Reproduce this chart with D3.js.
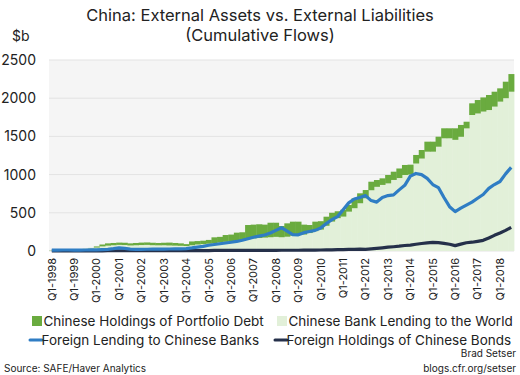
<!DOCTYPE html>
<html>
<head>
<meta charset="utf-8">
<script src="https://cdn.jsdelivr.net/npm/d3@7"></script>
<style>
  body { margin: 0; background: #fff; }
  svg { display: block; font-family: "Inter", "Lato", sans-serif; }
</style>
</head>
<body>
<svg id="chart" width="520" height="375"></svg>
<script>
// quarters Q1-1998 .. Q3-2018
var years = d3.range(1998, 2019);
var quarters = [];
years.forEach(function(y) {
  ["Q1", "Q2", "Q3", "Q4"].forEach(function(q) { quarters.push(q + "-" + y); });
});
quarters = quarters.slice(0, 83);

var tickLabels = quarters.filter(function(q) { return q.indexOf("Q1") === 0; });

// $b, cumulative flows
var bankLending = [
  5, 6, 8, 10,   12, 18, 25, 35,   45, 60, 70, 75,   80, 78, 72, 75,
  78, 80, 76, 74,   75, 72, 70, 68,   65, 75, 85, 90,   95, 100, 110, 120,
  125, 135, 145, 155,   165, 170, 175, 180,   185, 180, 187, 200,   209, 215, 235, 260,
  280, 330, 385, 430,   450, 515, 560, 625,   690, 795, 840, 865,   885, 930, 955, 995,
  1000, 1145, 1210, 1300,   1300, 1365, 1475, 1475,   1455, 1495, 1605, 1780,
  1800, 1825, 1845, 1890,   1955, 2000, 2085
];
var portfolioDebt = [
  3, 4, 4, 4,   3, 2, 3, 5,   15, 25, 30, 30,   30, 30, 28, 30,
  32, 32, 32, 31,   33, 38, 35, 32,   25, 50, 45, 45,   50, 79, 75, 89,
  90, 105, 100, 185,   180, 180, 170, 190,   185, 147, 175, 184,   175, 130, 105, 124,
  110, 119, 115, 90,   90, 87, 130, 130,   108, 112, 89, 86,   110, 108, 125, 131,
  130, 112, 112, 131,   131, 131, 131, 131,   151, 155, 87, 153,
  176, 185, 197, 195,   174, 216, 231
];
var foreignBankLending = [
  12, 12, 13, 13,   12, 12, 13, 14,   15, 18, 22, 30,   40, 35, 25, 22,
  22, 23, 24, 25,   25, 26, 27, 28,   32, 40, 50, 60,   75, 85, 95, 105,
  115, 125, 140, 160,   180, 195, 210, 235,   270, 305, 260, 215,   212, 240, 255, 270,
  300, 360, 410, 450,   540, 630, 680, 700,   725, 660, 640, 700,   725, 735, 800, 860,
  980, 1015, 1000, 950,   870, 830, 700, 580,   515, 560, 600, 640,
  690, 740, 820, 870,   910, 1010, 1095
];
var foreignBonds = [
  2, 2, 2, 2,   2, 2, 2, 2,   2, 2, 3, 3,   3, 3, 3, 3,
  3, 3, 3, 3,   3, 3, 4, 4,   5, 5, 6, 6,   6, 7, 7, 7,
  7, 7, 8, 8,   8, 8, 9, 9,   9, 10, 10, 10,   10, 11, 12, 12,
  13, 14, 15, 17,   18, 20, 22, 25,   22, 28, 35, 42,   50, 56, 63, 72,
  78, 88, 98, 106,   113, 110, 100, 88,   70, 90, 108, 115,
  127, 140, 170, 205,   235, 270, 310
];
var yTicks = [0, 500, 1000, 1500, 2000, 2500];

var seriesNames = {
  portfolio: "Chinese Holdings of Portfolio Debt",
  bank: "Chinese Bank Lending to the World",
  foreignBank: "Foreign Lending to Chinese Banks",
  bonds: "Foreign Holdings of Chinese Bonds"
};
var colors = {
  portfolio: "#6aab3f",
  bank: "#e2f0d9",
  foreignBank: "#2f7dc4",
  bonds: "#25304a"
};

var svg = d3.select("#chart");
var plotLeft = 49, plotRight = 514, plotTop = 60, plotBottom = 251;

var x = d3.scaleBand().domain(quarters).range([plotLeft, plotRight]).padding(0);
var y = d3.scaleLinear().domain([0, 2500]).range([plotBottom, plotTop]);

// plot background and grid
svg.append("rect")
  .attr("x", plotLeft).attr("y", plotTop)
  .attr("width", plotRight - plotLeft).attr("height", plotBottom - plotTop)
  .attr("fill", "#f5f5f5");

svg.append("g").selectAll("line")
  .data(yTicks)
  .enter().append("line")
  .attr("x1", plotLeft).attr("x2", plotRight)
  .attr("y1", function(d) { return y(d); })
  .attr("y2", function(d) { return y(d); })
  .attr("stroke", "#e3e3e3")
  .attr("stroke-width", 1);

// stacked columns
var table = quarters.map(function(q, i) {
  return { q: q, bank: bankLending[i], portfolio: portfolioDebt[i] };
});
var stacked = d3.stack().keys(["bank", "portfolio"])(table);

svg.append("g").selectAll("g")
  .data(stacked)
  .enter().append("g")
  .attr("fill", function(d) { return colors[d.key]; })
  .selectAll("rect")
  .data(function(d) { return d; })
  .enter().append("rect")
  .attr("x", function(d) { return x(d.data.q); })
  .attr("width", x.bandwidth() + 0.4)
  .attr("y", function(d) { return y(d[1]); })
  .attr("height", function(d) { return y(d[0]) - y(d[1]); });

// lines
var line = d3.line()
  .x(function(d, i) { return x(quarters[i]) + x.bandwidth() / 2; })
  .y(function(d) { return y(d); });

svg.append("path")
  .datum(foreignBonds)
  .attr("d", line)
  .attr("fill", "none")
  .attr("stroke", colors.bonds)
  .attr("stroke-width", 3.2)
  .attr("stroke-linejoin", "round");

svg.append("path")
  .datum(foreignBankLending)
  .attr("d", line)
  .attr("fill", "none")
  .attr("stroke", colors.foreignBank)
  .attr("stroke-width", 3.2)
  .attr("stroke-linejoin", "round");

// y axis
var yAxis = d3.axisLeft(y).tickValues(yTicks).tickFormat(d3.format("d"))
  .tickSize(0).tickPadding(0);
var gy = svg.append("g")
  .attr("transform", "translate(36,0)")
  .call(yAxis);
gy.select(".domain").remove();
gy.selectAll("text")
  .attr("font-family", "Inter, Lato, sans-serif")
  .attr("font-size", 14)
  .attr("fill", "#222");

// x axis, Q1 labels only
var xAxis = d3.axisBottom(x).tickValues(tickLabels).tickSize(0).tickPadding(0);
var gx = svg.append("g")
  .attr("transform", "translate(0," + (plotBottom + 7) + ")")
  .call(xAxis);
gx.select(".domain").remove();
gx.selectAll("text")
  .attr("font-family", "Inter, Lato, sans-serif")
  .attr("font-size", 11)
  .attr("fill", "#222")
  .attr("transform", "rotate(-90)")
  .attr("text-anchor", "end")
  .attr("x", 0)
  .attr("y", 0)
  .attr("dy", "0.35em");

// titles
svg.append("text")
  .attr("x", 260).attr("y", 21)
  .attr("text-anchor", "middle")
  .attr("font-size", 16.5).attr("fill", "#222")
  .text("China: External Assets vs. External Liabilities");
svg.append("text")
  .attr("x", 260).attr("y", 41)
  .attr("text-anchor", "middle")
  .attr("font-size", 16.5).attr("fill", "#222")
  .text("(Cumulative Flows)");
svg.append("text")
  .attr("x", 12).attr("y", 41)
  .attr("font-size", 14).attr("fill", "#222")
  .text("$b");

// legend
var legend = [
  { key: "portfolio", type: "box", x: 32, y: 321 },
  { key: "bank", type: "box", x: 277, y: 321 },
  { key: "foreignBank", type: "line", x: 30, y: 340 },
  { key: "bonds", type: "line", x: 275, y: 340 }
];
var lg = svg.append("g").selectAll("g")
  .data(legend)
  .enter().append("g")
  .attr("transform", function(d) { return "translate(" + d.x + "," + d.y + ")"; });

lg.filter(function(d) { return d.type === "box"; })
  .append("rect")
  .attr("x", 0).attr("y", -5).attr("width", 10).attr("height", 10)
  .attr("fill", function(d) { return colors[d.key]; });
lg.filter(function(d) { return d.type === "line"; })
  .append("line")
  .attr("x1", 0).attr("x2", 12).attr("y1", 0).attr("y2", 0)
  .attr("stroke", function(d) { return colors[d.key]; })
  .attr("stroke-width", 3)
  .attr("stroke-linecap", "round");
lg.append("text")
  .attr("x", 11.5).attr("y", 0).attr("dy", "0.35em")
  .attr("font-size", 13.5).attr("fill", "#222")
  .text(function(d) { return seriesNames[d.key]; });

// credits
svg.append("text")
  .attr("x", 4).attr("y", 372)
  .attr("font-size", 10).attr("fill", "#222")
  .text("Source: SAFE/Haver Analytics");
svg.append("text")
  .attr("x", 516).attr("y", 357)
  .attr("text-anchor", "end")
  .attr("font-size", 10).attr("fill", "#222")
  .text("Brad Setser");
svg.append("text")
  .attr("x", 516).attr("y", 372)
  .attr("text-anchor", "end")
  .attr("font-size", 10).attr("fill", "#222")
  .text("blogs.cfr.org/setser");
</script>
</body>
</html>
